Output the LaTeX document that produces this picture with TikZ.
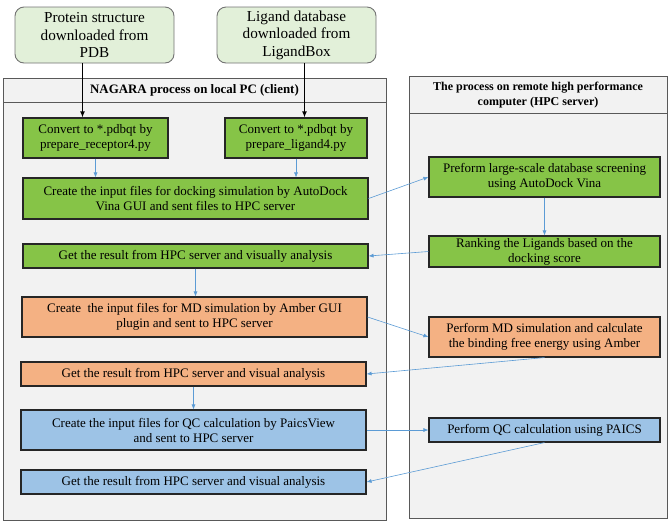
\documentclass[tikz,border=0pt]{standalone}
\usepackage{fontspec}
\setmainfont{Liberation Serif}
\usetikzlibrary{arrows.meta}
\definecolor{srcfill}{HTML}{E2F0D9}
\definecolor{gfill}{HTML}{86C447}
\definecolor{ofill}{HTML}{F4B183}
\definecolor{bfill}{HTML}{9DC3E6}
\definecolor{panel}{HTML}{F2F2F2}
\definecolor{flow}{HTML}{5B9BD5}
\tikzset{
  srcbox/.style={draw=black!55, fill=srcfill, line width=0.9pt, rounded corners=9pt, minimum width=159pt, minimum height=56pt, align=center, font=\fontsize{15.2}{17.5}\selectfont},
  taskbox/.style={draw=black!85, line width=1.1pt, align=center, inner sep=1pt, font=\fontsize{13}{15}\selectfont},
  greenbox/.style={taskbox, fill=gfill},
  orangebox/.style={taskbox, fill=ofill},
  bluebox/.style={taskbox, fill=bfill},
  flowarrow/.style={draw=flow, line width=0.6pt, -{Latex[length=5pt,width=4pt]}},
  mainarrow/.style={draw=black, line width=1.4pt, -{Latex[length=6pt,width=5pt]}}
}
\begin{document}
\begin{tikzpicture}[x=1pt,y=-1pt]
  \useasboundingbox (0,0) rectangle (668,523);
  \draw[fill=panel, draw=black!65, line width=0.9pt] (3,78) rectangle (386,520);
  \draw[draw=black!65, line width=0.9pt] (3,102) -- (386,102);
  \draw[fill=panel, draw=black!65, line width=0.9pt] (409,76) rectangle (667,518);
  \draw[draw=black!65, line width=0.9pt] (409,113) -- (667,113);
  \node[font=\fontsize{12.9}{14}\selectfont\bfseries] (lochead) at (194.5,90) {NAGARA process on local PC (client)};
  \node[align=center, font=\fontsize{12}{15}\selectfont\bfseries] (remhead) at (538,95) {The process on remote high performance\\computer (HPC server)};

  \node[srcbox] (prot) at (94.5,35) {Protein structure\\downloaded from\\PDB};
  \node[srcbox] (lig) at (296.5,35) {Ligand database\\downloaded from\\LigandBox};

  \node[greenbox, minimum width=145pt, minimum height=40pt] (conv1) at (95.5,138) {Convert to *.pdbqt by\\prepare\_receptor4.py};
  \node[greenbox, minimum width=142pt, minimum height=40pt] (conv2) at (296,138) {Convert to *.pdbqt by\\prepare\_ligand4.py};
  \node[greenbox, minimum width=345pt, minimum height=41pt] (dock) at (195.5,198.5) {Create the input files for docking simulation by AutoDock\\Vina GUI and sent files to HPC server};
  \node[greenbox, minimum width=345pt, minimum height=24pt] (getg) at (195.5,256) {Get the result from HPC server and visually analysis};
  \node[orangebox, minimum width=345pt, minimum height=40pt] (mdin) at (194.5,317) {Create\ \ the input files for MD simulation by Amber GUI\\plugin and sent to HPC server};
  \node[orangebox, minimum width=345pt, minimum height=24pt] (geto) at (193.5,374) {Get the result from HPC server and visual analysis};
  \node[bluebox, minimum width=345pt, minimum height=40pt] (qcin) at (193.5,430) {Create the input files for QC calculation by PaicsView\\and sent to HPC server};
  \node[bluebox, minimum width=345pt, minimum height=24pt] (getb) at (193.5,482) {Get the result from HPC server and visual analysis};

  \node[greenbox, minimum width=231pt, minimum height=40pt] (vina) at (544.5,177) {Preform large-scale database screening\\using AutoDock Vina};
  \node[greenbox, minimum width=231pt, minimum height=31pt] (rank) at (544.5,251.5) {Ranking the Ligands based on the\\docking score};
  \node[orangebox, minimum width=231pt, minimum height=40pt] (mdrun) at (544.5,337) {Perform MD simulation and calculate\\the binding free energy using Amber};
  \node[bluebox, minimum width=231pt, minimum height=24pt] (qcrun) at (544.5,430) {Perform QC calculation using PAICS};

  \draw[mainarrow] ([xshift=-12pt]prot.south) -- ([xshift=-12pt]prot.south |- conv1.north);
  \draw[mainarrow] ([xshift=8pt]lig.south) -- ([xshift=8pt]lig.south |- conv2.north);
  \draw[flowarrow] (conv1.south) -- (conv1.south |- dock.north);
  \draw[flowarrow] (conv2.south) -- (conv2.south |- dock.north);
  \draw[flowarrow] (dock.east) -- (vina.west);
  \draw[flowarrow] (vina.south) -- (rank.north);
  \draw[flowarrow] (rank.west) -- (getg.east);
  \draw[flowarrow] (getg.south) -- (getg.south |- mdin.north);
  \draw[flowarrow] (mdin.east) -- (mdrun.west);
  \draw[flowarrow] (mdrun.south) -- (geto.east);
  \draw[flowarrow] (geto.south) -- (geto.south |- qcin.north);
  \draw[flowarrow] (qcin.east) -- (qcrun.west);
  \draw[flowarrow] (qcrun.south) -- (getb.east);
\end{tikzpicture}
\end{document}
